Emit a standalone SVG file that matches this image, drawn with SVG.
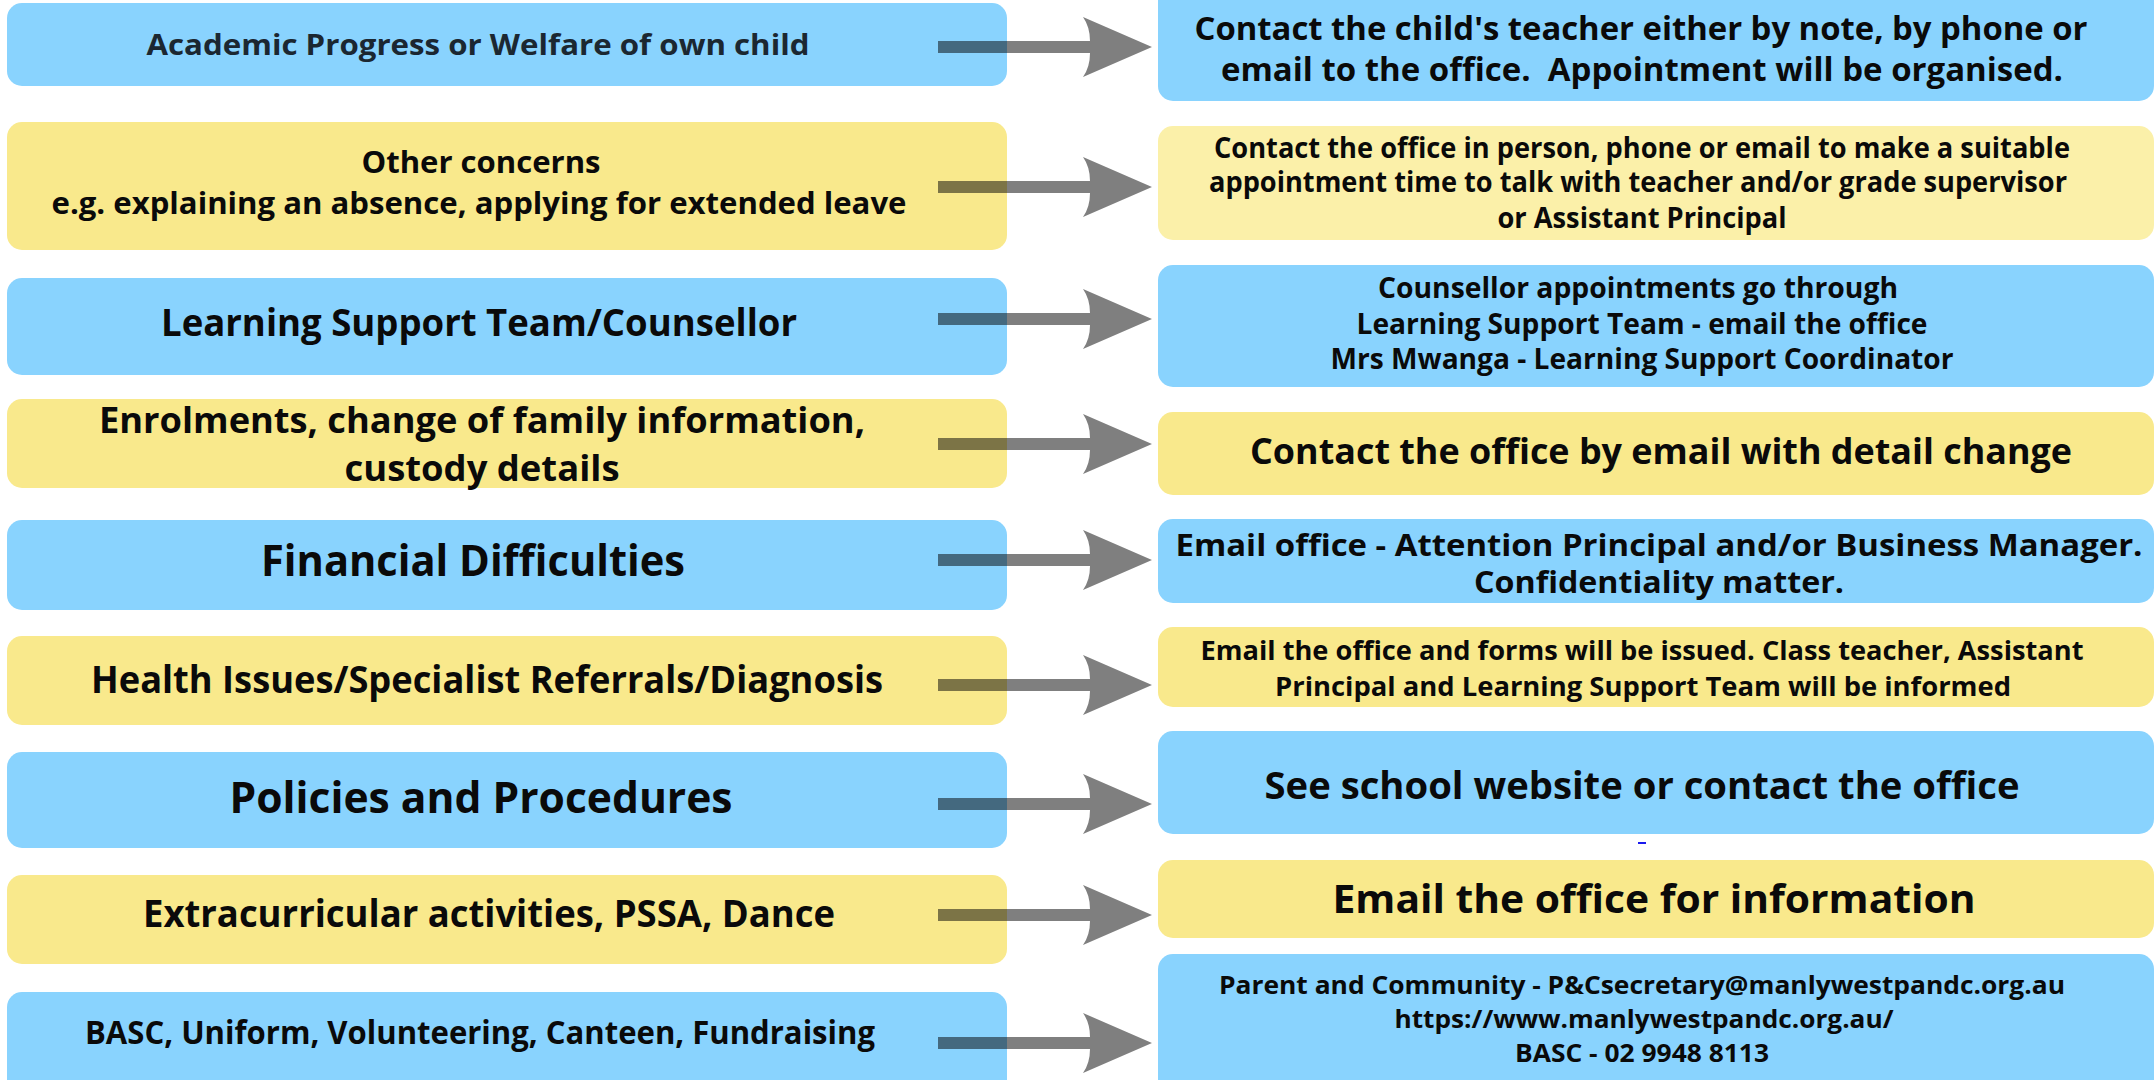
<svg xmlns="http://www.w3.org/2000/svg" width="2154" height="1080" viewBox="0 0 2154 1080">
<style>
.blue{fill:#89D3FE}
.yel{fill:#F9E98C}
.pale{fill:#FBF0A9}
text{font-family:"Open Sans","Liberation Sans",sans-serif;font-weight:700;fill:#0a0a0a;text-anchor:middle}
.arrow{fill:#000;fill-opacity:0.5}
</style>
<rect width="2154" height="1080" fill="#ffffff"/>
<g id="left-nodes">
<g id="n1"><rect class="blue" x="7" y="3" width="1000" height="83" rx="15"/><text x="478" y="55" font-size="29" style="fill:#1b2731" textLength="663" lengthAdjust="spacingAndGlyphs">Academic Progress or Welfare of own child</text></g>
<g id="n2"><rect class="yel" x="7" y="122" width="1000" height="128" rx="15"/><text x="481" y="173" font-size="31" textLength="239" lengthAdjust="spacingAndGlyphs">Other concerns</text><text x="479" y="213.5" font-size="31" textLength="855" lengthAdjust="spacingAndGlyphs">e.g. explaining an absence, applying for extended leave</text></g>
<g id="n3"><rect class="blue" x="7" y="278" width="1000" height="97" rx="15"/><text x="479" y="336" font-size="37" textLength="636" lengthAdjust="spacingAndGlyphs">Learning Support Team/Counsellor</text></g>
<g id="n4"><rect class="yel" x="7" y="399" width="1000" height="89" rx="15"/><text x="482" y="432.5" font-size="36" textLength="766" lengthAdjust="spacingAndGlyphs">Enrolments, change of family information,</text><text x="482" y="480.5" font-size="36" textLength="275" lengthAdjust="spacingAndGlyphs">custody details</text></g>
<g id="n5"><rect class="blue" x="7" y="520" width="1000" height="90" rx="15"/><text x="473" y="576" font-size="43" textLength="424" lengthAdjust="spacingAndGlyphs">Financial Difficulties</text></g>
<g id="n6"><rect class="yel" x="7" y="636" width="1000" height="89" rx="15"/><text x="487" y="693" font-size="38" textLength="792" lengthAdjust="spacingAndGlyphs">Health Issues/Specialist Referrals/Diagnosis</text></g>
<g id="n7"><rect class="blue" x="7" y="752" width="1000" height="96" rx="15"/><text x="481" y="813" font-size="43" textLength="503" lengthAdjust="spacingAndGlyphs">Policies and Procedures</text></g>
<g id="n8"><rect class="yel" x="7" y="875" width="1000" height="89" rx="15"/><text x="489" y="926.5" font-size="37" textLength="692" lengthAdjust="spacingAndGlyphs">Extracurricular activities, PSSA, Dance</text></g>
<g id="n9"><rect class="blue" x="7" y="992" width="1000" height="103" rx="15"/><text x="480" y="1044" font-size="32" textLength="790" lengthAdjust="spacingAndGlyphs">BASC, Uniform, Volunteering, Canteen, Fundraising</text></g>
</g>
<g id="right-nodes">
<g id="r1"><rect class="blue" x="1158" y="-15" width="996" height="116" rx="15"/><text x="1641" y="39.5" font-size="32" textLength="893" lengthAdjust="spacingAndGlyphs">Contact the child's teacher either by note, by phone or</text><text x="1642" y="80.5" font-size="32" textLength="842" lengthAdjust="spacingAndGlyphs" xml:space="preserve">email to the office.  Appointment will be organised.</text></g>
<g id="r2"><rect class="pale" x="1158" y="126" width="996" height="114" rx="15"/><text x="1642" y="158" font-size="28.5" textLength="856" lengthAdjust="spacingAndGlyphs">Contact the office in person, phone or email to make a suitable</text><text x="1638" y="192" font-size="28.5" textLength="858" lengthAdjust="spacingAndGlyphs">appointment time to talk with teacher and/or grade supervisor</text><text x="1642" y="228" font-size="28.5" textLength="289" lengthAdjust="spacingAndGlyphs">or Assistant Principal</text></g>
<g id="r3"><rect class="blue" x="1158" y="265" width="996" height="122" rx="15"/><text x="1638" y="297.5" font-size="28.5" textLength="520" lengthAdjust="spacingAndGlyphs">Counsellor appointments go through</text><text x="1642" y="334" font-size="28.5" textLength="571" lengthAdjust="spacingAndGlyphs">Learning Support Team - email the office</text><text x="1642" y="369" font-size="28.5" textLength="623" lengthAdjust="spacingAndGlyphs">Mrs Mwanga - Learning Support Coordinator</text></g>
<g id="r4"><rect class="yel" x="1158" y="412" width="996" height="83" rx="15"/><text x="1661" y="463.5" font-size="36" textLength="822" lengthAdjust="spacingAndGlyphs">Contact the office by email with detail change</text></g>
<g id="r5"><rect class="blue" x="1158" y="519" width="996" height="84" rx="15"/><text x="1659" y="555.5" font-size="29.5" textLength="967" lengthAdjust="spacingAndGlyphs">Email office - Attention Principal and/or Business Manager.</text><text x="1659" y="592.5" font-size="29.5" textLength="370" lengthAdjust="spacingAndGlyphs">Confidentiality matter.</text></g>
<g id="r6"><rect class="yel" x="1158" y="627" width="996" height="80" rx="15"/><text x="1642" y="660" font-size="27.5" textLength="883" lengthAdjust="spacingAndGlyphs">Email the office and forms will be issued. Class teacher, Assistant</text><text x="1643" y="695.5" font-size="27.5" textLength="736" lengthAdjust="spacingAndGlyphs">Principal and Learning Support Team will be informed</text></g>
<g id="r7"><rect class="blue" x="1158" y="731" width="996" height="103" rx="15"/><text x="1642" y="799" font-size="38" textLength="755" lengthAdjust="spacingAndGlyphs">See school website or contact the office</text></g>
<rect x="1638" y="842" width="8" height="2" fill="#1a1aee"/>
<g id="r8"><rect class="yel" x="1158" y="860" width="996" height="78" rx="15"/><text x="1654" y="913" font-size="39.5" textLength="643" lengthAdjust="spacingAndGlyphs">Email the office for information</text></g>
<g id="r9"><rect class="blue" x="1158" y="954" width="996" height="141" rx="15"/><text x="1642" y="994.3" font-size="24.6" textLength="846" lengthAdjust="spacingAndGlyphs">Parent and Community - P&amp;Csecretary@manlywestpandc.org.au</text><text x="1644" y="1028.3" font-size="24.6" textLength="499" lengthAdjust="spacingAndGlyphs">https://www.manlywestpandc.org.au/</text><text x="1642" y="1061.7" font-size="24.6" textLength="254" lengthAdjust="spacingAndGlyphs">BASC - 02 9948 8113</text></g>
</g>
<defs>
<path id="arr" d="M938,-6 L1090,-6 Q1090,-20 1083,-30 L1152,0 L1083,30 Q1090,20 1090,6 L938,6 Z"/>
</defs>
<g id="connectors" class="arrow">
<use href="#arr" y="47"/>
<use href="#arr" y="187"/>
<use href="#arr" y="319"/>
<use href="#arr" y="444"/>
<use href="#arr" y="560"/>
<use href="#arr" y="685"/>
<use href="#arr" y="804"/>
<use href="#arr" y="915"/>
<use href="#arr" y="1043"/>
</g>
</svg>
